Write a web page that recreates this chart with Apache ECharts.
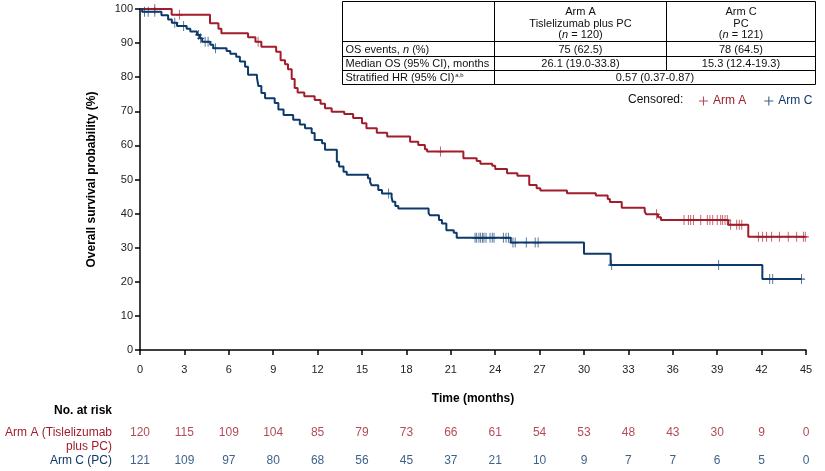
<!DOCTYPE html>
<html>
<head>
<meta charset="utf-8">
<script src="https://cdn.jsdelivr.net/npm/echarts@6/dist/echarts.min.js"></script>
<style>
  html, body { margin: 0; padding: 0; background: #fff; }
  #chart { width: 825px; height: 471px; }
</style>
</head>
<body>
<div id="chart"></div>
<script>
// KM step data (time in months, survival %)
var armATime = [0, 2.14, 4.73, 5.3, 5.5, 7.3, 7.8, 8.2, 9.2, 9.5, 9.8, 10.0, 10.25, 10.45, 10.65, 11.1, 11.8, 12.2, 12.5, 12.95,
    13.8, 14.4, 15.0, 15.3, 16.0, 16.7, 18.25, 18.8, 19.25, 19.4, 21.85, 22.75, 23.0, 23.8, 24.0, 24.8, 25.5, 26.3, 26.8, 27.05,
    28.85, 30.8, 31.6, 31.75, 32.55, 34.1, 34.2, 35.0, 35.2, 39.75, 41.1];
var armASurv = [100, 98.3, 95.8, 94.2, 92.9, 91.7, 90.4, 88.9, 87.5, 85.0, 83.8, 82.3, 79.5, 76.8, 75.5, 74.4, 73.3, 72.2, 70.9, 69.9,
    69.2, 68.0, 66.5, 65.0, 63.7, 62.6, 61.1, 60.1, 58.9, 58.2, 56.2, 55.4, 54.6, 54.0, 53.1, 51.8, 51.1, 48.4, 47.4, 46.8,
    46.0, 45.3, 44.3, 43.4, 41.7, 40.6, 39.8, 38.9, 38.1, 36.7, 33.2];
var armACensor = [1.0, 2.66, 7.98, 20.3, 34.9, 36.76, 37.05, 37.21, 37.39, 37.89, 38.33, 38.51, 38.7, 39.0, 39.24, 39.37, 39.53, 39.68,
    39.91, 40.32, 40.49, 40.66, 41.78, 42.07, 42.34, 42.68, 43.2, 43.8, 44.37, 44.82, 44.95];

var armCTime = [0, 0.15, 1.45, 1.9, 2.15, 2.5, 3.15, 3.4, 3.85, 4.05, 4.2, 4.75, 4.95, 5.85, 6.1, 6.5, 6.75, 7.1, 7.3, 7.9,
    8.0, 8.2, 8.45, 9.1, 9.35, 9.7, 10.35, 10.8, 11.15, 11.6, 11.8, 12.3, 12.5, 13.3, 13.45, 13.75, 13.97, 15.4, 15.55, 15.65,
    16.1, 16.35, 17.0, 17.07, 17.25, 17.45, 19.5, 19.6, 20.2, 20.4, 20.7, 21.2, 21.4, 25.05, 30.0, 31.8, 42.05];
var armCSurv = [100, 99.2, 98.2, 96.9, 96.0, 95.0, 94.2, 93.4, 92.4, 91.4, 90.4, 89.5, 88.5, 87.7, 86.9, 86.0, 84.6, 83.1, 80.7, 79.9,
    77.4, 75.4, 73.8, 72.4, 70.5, 68.9, 67.5, 66.1, 65.0, 63.6, 61.6, 60.6, 58.7, 55.2, 53.8, 52.3, 51.4, 50.4, 49.2, 48.3,
    46.9, 45.9, 44.8, 43.5, 42.2, 41.5, 40.1, 39.5, 38.1, 37.1, 35.1, 34.4, 32.9, 31.5, 28.2, 24.9, 20.8];
var armCCensor = [0.3, 0.55, 1.0, 2.35, 2.95, 3.95, 4.1, 4.4, 4.6, 5.1, 16.8, 22.64, 22.75, 22.9, 23.02, 23.15, 23.24, 23.38,
    23.65, 23.8, 23.92, 24.55, 24.73, 24.89, 25.2, 25.35, 26.1, 26.7, 26.9, 31.87, 39.1, 42.55, 42.75, 44.7];

// number at risk
var riskTimes = [0, 3, 6, 9, 12, 15, 18, 21, 24, 27, 30, 33, 36, 39, 42, 45];
var riskA = [120, 115, 109, 104, 85, 79, 73, 66, 61, 54, 53, 48, 43, 30, 9, 0];
var riskC = [121, 109, 97, 80, 68, 56, 45, 37, 21, 10, 9, 7, 7, 6, 5, 0];

// summary table
var tableHead = [['Arm A', 'Tislelizumab plus PC', '{t|(}{i|n}{t| = 120)}'], ['Arm C', 'PC', '{t|(}{i|n}{t| = 121)}']];
var tableRowNames = ['{t|OS events, }{i|n}{t| (%)}', '{t|Median OS (95% CI), months}', '{t|Stratified HR (95% CI)}{s|a,b}'];
var tableArmA = ['75 (62.5)', '26.1 (19.0-33.8)'];
var tableArmC = ['78 (64.5)', '15.3 (12.4-19.3)'];
var tableHR = '0.57 (0.37-0.87)';

var RED = '#a11d2b';
var BLUE = '#0d3a6b';
var FONT = '"Liberation Sans", Arial, sans-serif';
var PLUS = 'path://M4.4,0H5.6V4.4H10V5.6H5.6V10H4.4V5.6H0V4.4H4.4Z';

function kmLine(times, surv, endT) {
    var d = [];
    for (var i = 0; i < times.length; i++) d.push([times[i], surv[i]]);
    d.push([endT, surv[surv.length - 1]]);
    return d;
}

function censorPoints(times, surv, cens) {
    return cens.map(function(t) {
        var s = surv[0];
        for (var i = 0; i < times.length; i++) {
            if (times[i] <= t) s = surv[i];
        }
        return [t, s];
    });
}

function riskData(arm, vals) {
    return riskTimes.map(function(t, i) { return [t, arm, vals[i]]; });
}

var textCommon = {fontFamily: FONT, fontSize: 11, fill: '#111'};
function txt(x, y, text, align, extra) {
    var st = Object.assign({}, textCommon, {
        text: text, align: align || 'center', textAlign: align || 'center',
        verticalAlign: 'middle', textVerticalAlign: 'middle',
        rich: {
            t: {fontFamily: FONT, fontSize: 11, fill: '#111'},
            i: {fontFamily: FONT, fontSize: 11, fill: '#111', fontStyle: 'italic'},
            s: {fontFamily: FONT, fontSize: 6, fill: '#111', verticalAlign: 'top', padding: [0, 0, 6, 1]}
        }
    }, extra || {});
    return {type: 'text', x: x, y: y, style: st, z: 100};
}
function line(x1, y1, x2, y2) {
    return {type: 'line', shape: {x1: x1, y1: y1, x2: x2, y2: y2},
        style: {stroke: '#000', lineWidth: 1}, z: 100};
}

// table geometry
var cx = [342.5, 494.5, 666.5, 815.5];
var ry = [1.5, 41.5, 56.5, 70.5, 84.5];
var tableEls = [
    {type: 'rect', shape: {x: cx[0], y: ry[0], width: cx[3] - cx[0], height: ry[4] - ry[0]},
        style: {fill: '#fff', stroke: '#000', lineWidth: 1}, z: 99},
    line(cx[1], ry[0], cx[1], ry[4]),
    line(cx[2], ry[0], cx[2], ry[3]),
    line(cx[0], ry[1], cx[3], ry[1]),
    line(cx[0], ry[2], cx[3], ry[2]),
    line(cx[0], ry[3], cx[3], ry[3])
];
[0, 1].forEach(function(k) {
    var mid = (cx[k + 1] + cx[k + 2]) / 2;
    tableEls.push(txt(mid, 11.5, tableHead[k][0]));
    tableEls.push(txt(mid, 24, tableHead[k][1]));
    tableEls.push(txt(mid, 35, tableHead[k][2]));
});
tableRowNames.forEach(function(nm, r) {
    tableEls.push(txt(cx[0] + 3, (ry[r + 1] + ry[r + 2]) / 2 + 0.5, nm, 'left'));
});
[0, 1].forEach(function(r) {
    var y = (ry[r + 1] + ry[r + 2]) / 2 + 0.5;
    tableEls.push(txt((cx[1] + cx[2]) / 2, y, tableArmA[r]));
    tableEls.push(txt((cx[2] + cx[3]) / 2, y, tableArmC[r]));
});
tableEls.push(txt((cx[1] + cx[3]) / 2, (ry[3] + ry[4]) / 2 + 0.5, tableHR));

var labelEls = [
    txt(628, 100, 'Censored:', 'left', {fontSize: 12}),
    txt(112, 411, 'No. at risk', 'right', {fontSize: 12, fontWeight: 'bold', fill: '#000'}),
    txt(112, 433, 'Arm A (Tislelizumab', 'right', {fontSize: 12, fill: RED}),
    txt(112, 447, 'plus PC)', 'right', {fontSize: 12, fill: RED}),
    txt(112, 461, 'Arm C (PC)', 'right', {fontSize: 12, fill: BLUE})
];

var chart = echarts.init(document.getElementById('chart'));
chart.setOption({
    animation: false,
    backgroundColor: '#fff',
    textStyle: {fontFamily: FONT},
    grid: [
        {left: 140, right: 19, top: 9, bottom: 121},
        {left: 140, right: 19, top: 433, height: 28}
    ],
    legend: {
        left: 694, top: 90, itemWidth: 9, itemHeight: 9, itemGap: 18,
        textStyle: {fontSize: 12, fontFamily: FONT},
        data: [
            {name: 'Arm A', icon: PLUS, textStyle: {color: RED}},
            {name: 'Arm C', icon: PLUS, textStyle: {color: BLUE}}
        ]
    },
    xAxis: [{
        type: 'value', min: 0, max: 45, interval: 3, gridIndex: 0,
        name: 'Time (months)', nameLocation: 'middle', nameGap: 43,
        nameTextStyle: {fontSize: 12, fontWeight: 'bold', color: '#000'},
        axisLine: {lineStyle: {color: '#000', width: 1.5}},
        axisTick: {length: 5, lineStyle: {color: '#000', width: 1.5}},
        axisLabel: {fontSize: 11, color: '#222', margin: 14},
        splitLine: {show: false}
    }, {
        type: 'value', min: 0, max: 45, gridIndex: 1, show: false
    }],
    yAxis: [{
        type: 'value', min: 0, max: 100, interval: 10, gridIndex: 0,
        name: 'Overall survival probability (%)', nameLocation: 'middle', nameGap: 42,
        nameTextStyle: {fontSize: 12, fontWeight: 'bold', color: '#000'},
        axisLine: {show: true, lineStyle: {color: '#000', width: 1.5}},
        axisTick: {show: true, length: 5, lineStyle: {color: '#000', width: 1.5}},
        axisLabel: {fontSize: 11, color: '#222', margin: 7},
        splitLine: {show: false}
    }, {
        type: 'category', data: ['Arm A', 'Arm C'], gridIndex: 1, inverse: true,
        boundaryGap: false, show: false
    }],
    series: [
        {
            name: 'Arm A KM', type: 'line', step: 'end', showSymbol: false, symbol: 'none',
            data: kmLine(armATime, armASurv, 44.95),
            lineStyle: {color: RED, width: 2}, itemStyle: {color: RED}, z: 3
        },
        {
            name: 'Arm C KM', type: 'line', step: 'end', showSymbol: false, symbol: 'none',
            data: kmLine(armCTime, armCSurv, 44.7),
            lineStyle: {color: BLUE, width: 2}, itemStyle: {color: BLUE}, z: 3
        },
        {
            name: 'Arm A', type: 'scatter', symbol: PLUS, symbolSize: [7, 10],
            data: censorPoints(armATime, armASurv, armACensor),
            itemStyle: {color: RED}, z: 4
        },
        {
            name: 'Arm C', type: 'scatter', symbol: PLUS, symbolSize: [7, 10],
            data: censorPoints(armCTime, armCSurv, armCCensor),
            itemStyle: {color: BLUE}, z: 4
        },
        {
            name: 'riskA', type: 'scatter', xAxisIndex: 1, yAxisIndex: 1, symbolSize: 1,
            itemStyle: {color: 'rgba(0,0,0,0)'}, data: riskData('Arm A', riskA),
            label: {show: true, position: 'inside', fontSize: 12, color: RED,
                formatter: function(p) { return p.value[2]; }}
        },
        {
            name: 'riskC', type: 'scatter', xAxisIndex: 1, yAxisIndex: 1, symbolSize: 1,
            itemStyle: {color: 'rgba(0,0,0,0)'}, data: riskData('Arm C', riskC),
            label: {show: true, position: 'inside', fontSize: 12, color: BLUE,
                formatter: function(p) { return p.value[2]; }}
        }
    ],
    graphic: tableEls.concat(labelEls)
});
window.onresize = chart.resize;
</script>
</body>
</html>
